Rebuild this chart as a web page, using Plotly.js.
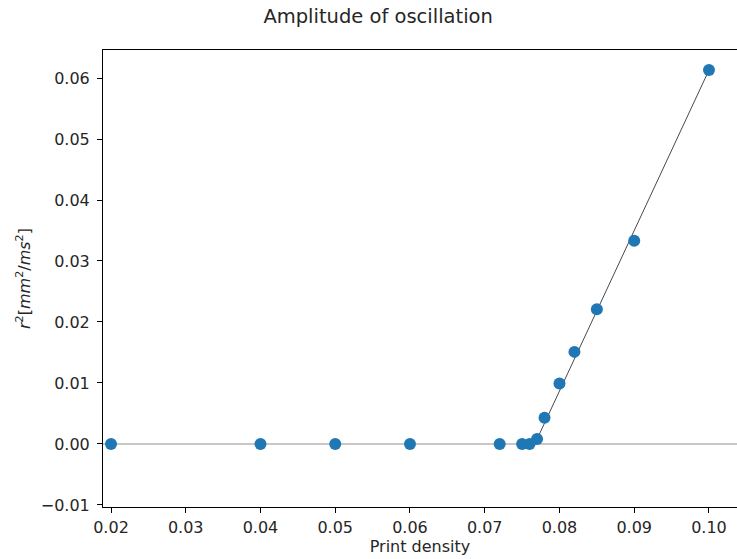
<!DOCTYPE html>
<html>
<head>
<meta charset="utf-8">
<script src="https://cdn.plot.ly/plotly-3.0.1.min.js"></script>
<style>html,body{margin:0;padding:0;background:#fff;}#chart{width:737px;height:559px;}</style>
</head>
<body>
<div id="chart"></div>
<script>
// Measured data
const printDensity = [0.020, 0.040, 0.050, 0.060, 0.072, 0.075, 0.076, 0.077, 0.078, 0.080, 0.082, 0.085, 0.090, 0.100];
const r2 = [0.0, 0.0, 0.0, 0.0, 0.0, 0.0, 0.0, 0.0008, 0.0043, 0.0099, 0.0151, 0.0221, 0.0333, 0.0613];
// Linear fit segment (threshold onward)
const fitX = [0.0767, 0.100];
const fitY = [0.0, 0.0613];
const xTicks = [0.02, 0.03, 0.04, 0.05, 0.06, 0.07, 0.08, 0.09, 0.10];
const xTickText = ["0.02", "0.03", "0.04", "0.05", "0.06", "0.07", "0.08", "0.09", "0.10"];
const yTicks = [-0.01, 0.00, 0.01, 0.02, 0.03, 0.04, 0.05, 0.06];
const yTickText = ["\u22120.01", "0.00", "0.01", "0.02", "0.03", "0.04", "0.05", "0.06"];

const font = "DejaVu Sans, sans-serif";
const txt = "#262626";

const traces = [
  {
    x: fitX, y: fitY, type: "scatter", mode: "lines",
    line: {color: "rgba(40,40,40,0.85)", width: 1},
    hoverinfo: "skip", showlegend: false
  },
  {
    x: printDensity, y: r2, type: "scatter", mode: "markers",
    marker: {color: "#1f77b4", size: 12, line: {width: 0}},
    showlegend: false
  }
];

const layout = {
  width: 737, height: 559,
  margin: {l: 103, r: 0, t: 50, b: 52},
  paper_bgcolor: "#fff", plot_bgcolor: "#fff",
  font: {family: font, color: txt, size: 16},
  title: {
    text: "Amplitude of oscillation",
    font: {family: font, size: 19.5, color: txt},
    xref: "paper", x: 0.434, xanchor: "center",
    yref: "container", y: 0.971, yanchor: "middle"
  },
  xaxis: {
    range: [0.01893, 0.10375],
    tickvals: xTicks, ticktext: xTickText,
    ticks: "outside", ticklen: 5, tickwidth: 1, tickcolor: "#000",
    showline: true, linecolor: "#000", linewidth: 1, mirror: true,
    showgrid: false, zeroline: false,
    ticklabelstandoff: 1,
    tickfont: {family: font, size: 16, color: txt},
    title: {text: "Print density", font: {family: font, size: 16, color: txt}, standoff: 4}
  },
  yaxis: {
    range: [-0.01033, 0.06459],
    tickvals: yTicks, ticktext: yTickText,
    ticks: "outside", ticklen: 5, tickwidth: 1, tickcolor: "#000",
    showline: true, linecolor: "#000", linewidth: 1, mirror: true,
    showgrid: false, zeroline: false,
    ticklabelstandoff: 4,
    tickfont: {family: font, size: 16, color: txt},
    title: {
      text: "<i>r</i><sup>2</sup>[<i>mm</i><sup>2</sup>/<i>ms</i><sup>2</sup>]",
      font: {family: font, size: 16, color: txt},
      standoff: 6
    }
  },
  shapes: [
    {type: "line", xref: "paper", x0: 0, x1: 1, yref: "y", y0: 0, y1: 0,
     line: {color: "rgba(150,150,150,0.7)", width: 1.3}, layer: "below"}
  ]
};

Plotly.newPlot("chart", traces, layout, {displayModeBar: false, staticPlot: true});
</script>
</body>
</html>
